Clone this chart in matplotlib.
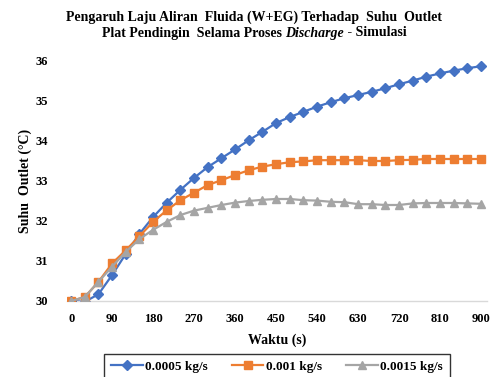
import matplotlib.pyplot as plt
import numpy as np

plt.rcParams['font.family'] = ['Liberation Serif', 'DejaVu Serif']
plt.rcParams['font.weight'] = 'bold'

waktu = list(range(0, 901, 30))
flow_labels = ['0.0005 kg/s', '0.001 kg/s', '0.0015 kg/s']
suhu_0005 = [30.0, 29.98, 30.17, 30.65, 31.18, 31.68, 32.1, 32.46, 32.78, 33.08,
             33.35, 33.57, 33.79, 34.02, 34.23, 34.45, 34.6, 34.73, 34.86, 34.97,
             35.07, 35.15, 35.23, 35.32, 35.42, 35.51, 35.61, 35.69, 35.76, 35.82, 35.87]
suhu_001 = [30.0, 30.1, 30.48, 30.94, 31.27, 31.62, 31.98, 32.27, 32.52, 32.71,
            32.9, 33.02, 33.15, 33.27, 33.36, 33.42, 33.47, 33.49, 33.52, 33.52,
            33.52, 33.52, 33.5, 33.5, 33.52, 33.53, 33.55, 33.55, 33.55, 33.55, 33.55]
suhu_0015 = [30.0, 30.1, 30.48, 30.86, 31.23, 31.55, 31.78, 31.98, 32.15, 32.26,
             32.33, 32.4, 32.46, 32.5, 32.53, 32.55, 32.55, 32.52, 32.51, 32.48,
             32.47, 32.42, 32.42, 32.4, 32.4, 32.44, 32.45, 32.45, 32.45, 32.44, 32.43]
xticks = list(range(0, 901, 90))
yticks = [30, 31, 32, 33, 34, 35, 36]

fig = plt.figure(figsize=(4.93, 3.77), dpi=100)
ax = fig.add_axes([0.136, 0.2016, 0.852, 0.6366])

ax.plot(waktu, suhu_0005, color='#4472C4', marker='D', markersize=5, lw=1.6, label=flow_labels[0])
ax.plot(waktu, suhu_001, color='#ED7D31', marker='s', markersize=6, lw=1.6, label=flow_labels[1])
ax.plot(waktu, suhu_0015, color='#A5A5A5', marker='^', markersize=6, lw=1.6, label=flow_labels[2])

ax.set_xlim(-9, 913)
ax.set_ylim(30, 36)
ax.set_xticks(xticks)
ax.set_yticks(yticks)
ax.tick_params(length=0, labelsize=9)
ax.tick_params(axis='x', pad=9)
ax.tick_params(axis='y', pad=14)
for s in ['top', 'right', 'left']:
    ax.spines[s].set_visible(False)
ax.spines['bottom'].set_color('#D9D9D9')
ax.spines['bottom'].set_linewidth(1.0)
ax.spines['bottom'].set_zorder(0)

ax.set_xlabel('Waktu (s)', fontsize=10, fontweight='bold', labelpad=6)
ax.set_ylabel('Suhu  Outlet (\u00b0C)', fontsize=10, fontweight='bold', labelpad=2)

leg = ax.legend(loc='upper center', bbox_to_anchor=(277 / 493, 1 - 354 / 377),
                bbox_transform=fig.transFigure, ncol=3, fontsize=9.5, frameon=True,
                fancybox=False, edgecolor='black', handlelength=2.4, columnspacing=1.8,
                handletextpad=0.2, borderpad=0.5, borderaxespad=0)
leg.get_frame().set_linewidth(1.0)

# title, second line built from pieces so Discharge can be italic
fig.text(254 / 493, 1 - 17 / 377, 'Pengaruh Laju Aliran  Fluida (W+EG) Terhadap  Suhu  Outlet',
         ha='center', va='center', fontsize=10, fontweight='bold')
parts = [('Plat Pendingin  Selama Proses ', 'normal'), ('Discharge', 'italic'), (' - Simulasi', 'normal')]
fig.canvas.draw()
r = fig.canvas.get_renderer()
texts = []
for s, st in parts:
    t = fig.text(0, 1 - 33 / 377, s, ha='left', va='center', fontsize=10, fontweight='bold', fontstyle=st)
    texts.append(t)
widths = [t.get_window_extent(r).width for t in texts]
x0 = 254 - sum(widths) / 2
for t, w in zip(texts, widths):
    t.set_x(x0 / 493)
    x0 += w

fig.savefig('out.png', dpi=100)
